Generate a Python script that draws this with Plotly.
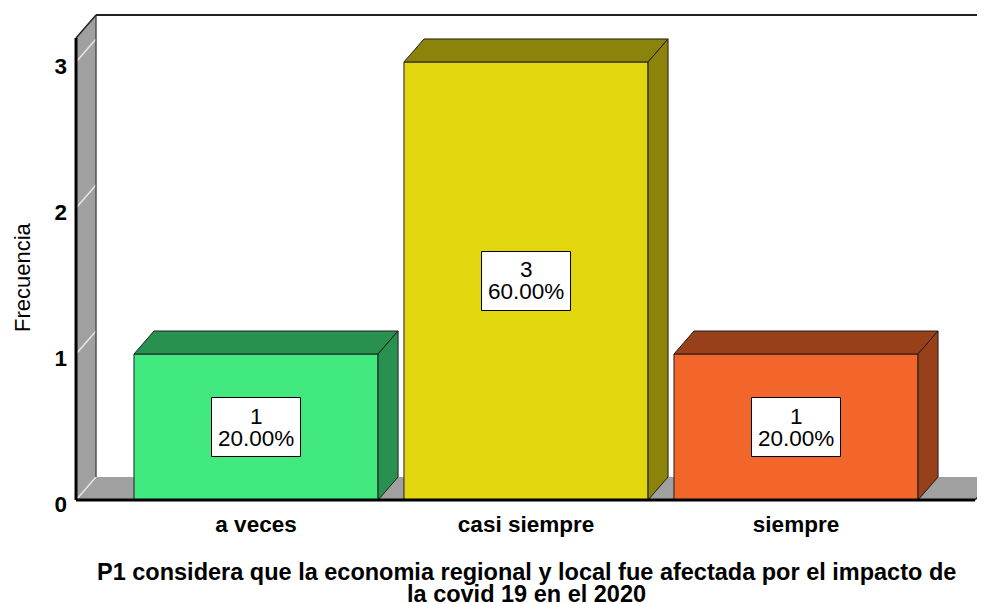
import plotly.graph_objects as go

# ---------------- data ----------------
categories = ["a veces", "casi siempre", "siempre"]
counts = [1, 3, 1]
front_colors = ["#41E97F", "#E2D60F", "#F2662B"]
shade_colors = ["#29914F", "#8C830A", "#974019"]
y_tick_vals = [0, 1, 2, 3]
y_tick_text = ["0", "1", "2", "3"]
x_title_lines = [
    "P1 considera que la economia regional y local fue afectada por el impacto de",
    "la covid 19 en el 2020",
]
y_title = "Frecuencia"

total = sum(counts)
pct_labels = [f"{100 * c / total:.2f}%" for c in counts]

# ---------------- geometry / style ----------------
BAR_W = 0.904        # bar width in category units
DX = 0.0741          # 3D depth offset (x units)
DY = 0.1575          # 3D depth offset (y units)
X_LEFT = -0.6667     # front edge of the left wall
X_RIGHT = 2.663      # front right end of the floor
WALL_TOP = 3.164     # top of the walls (front plane)
X_RANGE = [-0.689, 2.7]
Y_RANGE = [-0.0274, 3.356]
FONT = "Liberation Sans, Arial, sans-serif"
GRAY = "#A0A0A0"
EDGE = "#1E1E1E"

x_pos = list(range(len(categories)))

fig = go.Figure()

# front faces
fig.add_trace(go.Bar(
    x=x_pos, y=counts, width=BAR_W,
    marker=dict(color=front_colors, line=dict(color=EDGE, width=1)),
    hoverinfo="skip", showlegend=False,
))

# top and side faces
for xi, v, sc in zip(x_pos, counts, shade_colors):
    l, r = xi - BAR_W / 2, xi + BAR_W / 2
    fig.add_trace(go.Scatter(
        x=[l, r, r + DX, l + DX, l], y=[v, v, v + DY, v + DY, v],
        fill="toself", fillcolor=sc, mode="lines",
        line=dict(color=EDGE, width=1), hoverinfo="skip", showlegend=False,
    ))
    fig.add_trace(go.Scatter(
        x=[r, r + DX, r + DX, r, r], y=[0, DY, v + DY, v, 0],
        fill="toself", fillcolor=sc, mode="lines",
        line=dict(color=EDGE, width=1), hoverinfo="skip", showlegend=False,
    ))

shapes = []
# left wall
shapes.append(dict(
    type="path", xref="x", yref="y", layer="below",
    path=f"M {X_LEFT},0 L {X_LEFT},{WALL_TOP} L {X_LEFT + DX},{WALL_TOP + DY} "
         f"L {X_LEFT + DX},{DY} Z",
    fillcolor=GRAY, line=dict(width=0),
))
# floor
shapes.append(dict(
    type="path", xref="x", yref="y", layer="below",
    path=f"M {X_LEFT},0 L {X_RIGHT},0 L {X_RIGHT + DX},{DY} L {X_LEFT + DX},{DY} Z",
    fillcolor=GRAY, line=dict(width=0),
))
# light grid lines on the left wall
for t in y_tick_vals:
    shapes.append(dict(
        type="line", xref="x", yref="y", layer="below",
        x0=X_LEFT, y0=t, x1=X_LEFT + DX, y1=t + DY,
        line=dict(color="#E6E6E6", width=1.5),
    ))
# back wall edges
shapes.append(dict(type="line", xref="x", yref="y", layer="below",
                   x0=X_LEFT + DX, y0=DY, x1=X_LEFT + DX, y1=WALL_TOP + DY,
                   line=dict(color="#333333", width=1.2)))
shapes.append(dict(type="line", xref="x", yref="y", layer="below",
                   x0=X_LEFT + DX, y0=WALL_TOP + DY, x1=X_RANGE[1] + 0.1, y1=WALL_TOP + DY,
                   line=dict(color="#222222", width=2)))
shapes.append(dict(type="line", xref="x", yref="y", layer="below",
                   x0=X_LEFT, y0=WALL_TOP, x1=X_LEFT + DX, y1=WALL_TOP + DY,
                   line=dict(color="#222222", width=1.5)))
shapes.append(dict(type="line", xref="x", yref="y", layer="below",
                   x0=X_RIGHT, y0=0, x1=X_RIGHT + DX, y1=DY,
                   line=dict(color="#222222", width=1.2)))
# front axis lines
shapes.append(dict(type="line", xref="x", yref="y", layer="above",
                   x0=X_LEFT, y0=0, x1=X_RIGHT, y1=0,
                   line=dict(color="#000000", width=3)))
shapes.append(dict(type="line", xref="x", yref="y", layer="above",
                   x0=X_LEFT, y0=0, x1=X_LEFT, y1=WALL_TOP,
                   line=dict(color="#000000", width=3)))

# data label boxes
annotations = []
for xi, v, p in zip(x_pos, counts, pct_labels):
    shapes.append(dict(
        type="rect", xref="x", yref="y", layer="above",
        xsizemode="pixel", ysizemode="pixel", xanchor=xi, yanchor=v / 2,
        x0=-44.5, x1=44.5, y0=-29.5, y1=29.5,
        fillcolor="white", line=dict(color="#000000", width=1),
    ))
    annotations.append(dict(x=xi, y=v / 2, xref="x", yref="y", text=str(v),
                            showarrow=False, yshift=11,
                            font=dict(family=FONT, size=22.5, color="black")))
    annotations.append(dict(x=xi, y=v / 2, xref="x", yref="y", text=p,
                            showarrow=False, yshift=-11,
                            font=dict(family=FONT, size=22.5, color="black")))

# axis titles
annotations.append(dict(x=-0.0525, y=0.4595, xref="paper", yref="paper",
                        xanchor="center", yanchor="middle",
                        text=y_title, textangle=-90, showarrow=False,
                        font=dict(family=FONT, size=22, color="black")))
for i, (line, yp) in enumerate(zip(x_title_lines, [-0.1377, -0.1812])):
    annotations.append(dict(x=1, y=yp, xref="x", yref="paper",
                            xanchor="center", yanchor="middle",
                            text=line, showarrow=False,
                            font=dict(family=FONT, size=23.5, color="black", weight="bold")))

# The page body adds an 8 px offset, so the figure is laid out 8 px up/left.
fig.update_layout(
    width=977, height=596,
    margin=dict(l=62, r=0, t=2, b=100),
    paper_bgcolor="white", plot_bgcolor="white",
    shapes=shapes, annotations=annotations,
    showlegend=False,
    xaxis=dict(range=X_RANGE, tickvals=x_pos, ticktext=categories,
               showgrid=False, zeroline=False, showline=False, ticks="",
               ticklabelstandoff=4,
               tickfont=dict(family=FONT, size=22.5, color="black", weight="bold"),
               fixedrange=True),
    yaxis=dict(range=Y_RANGE, tickvals=y_tick_vals, ticktext=y_tick_text,
               showgrid=False, zeroline=False, showline=False, ticks="",
               ticklabelstandoff=2, ticklabelshift=4,
               tickfont=dict(family=FONT, size=22.5, color="black", weight="bold"),
               fixedrange=True),
)

fig.write_html("out.html")
